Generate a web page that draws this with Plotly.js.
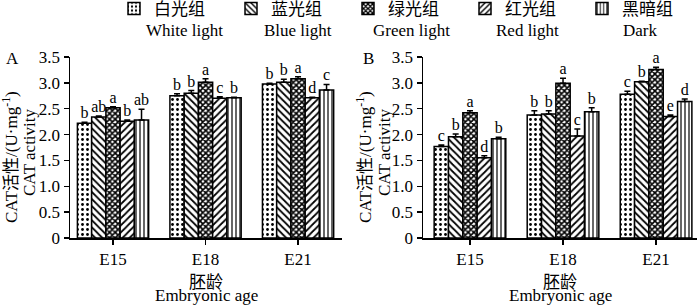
<!DOCTYPE html>
<html>
<head>
<meta charset="utf-8">
<script src="https://cdn.plot.ly/plotly-3.0.1.min.js"></script>
<style>html,body{margin:0;padding:0;background:#fff;}#chart{width:700px;height:305px;}</style>
</head>
<body>
<div id="chart"></div>
<script>
// ---------- data ----------
const categories = ['E15', 'E18', 'E21'];
const groupsCN = ['白光组', '蓝光组', '绿光组', '红光组', '黑暗组'];
const groupsEN = ['White light', 'Blue light', 'Green light', 'Red light', 'Dark'];

// Panel A
const A_white = [2.22, 2.75, 2.98];
const A_blue  = [2.34, 2.80, 3.01];
const A_green = [2.52, 3.01, 3.08];
const A_red   = [2.26, 2.70, 2.71];
const A_dark  = [2.28, 2.71, 2.86];
const A_white_err = [0.02, 0.04, 0.01];
const A_blue_err  = [0.02, 0.05, 0.06];
const A_green_err = [0.02, 0.07, 0.04];
const A_red_err   = [0.02, 0.03, 0.01];
const A_dark_err  = [0.21, 0.01, 0.11];
const A_white_sig = ['b', 'b', 'b'];
const A_blue_sig  = ['ab', 'b', 'b'];
const A_green_sig = ['a', 'a', 'a'];
const A_red_sig   = ['b', 'c', 'd'];
const A_dark_sig  = ['ab', 'b', 'c'];

// Panel B
const B_white = [1.77, 2.38, 2.78];
const B_blue  = [1.96, 2.40, 3.02];
const B_green = [2.42, 2.99, 3.26];
const B_red   = [1.55, 1.97, 2.35];
const B_dark  = [1.92, 2.44, 2.64];
const B_white_err = [0.03, 0.08, 0.06];
const B_blue_err  = [0.05, 0.06, 0.01];
const B_green_err = [0.04, 0.10, 0.04];
const B_red_err   = [0.04, 0.14, 0.03];
const B_dark_err  = [0.03, 0.08, 0.05];
const B_white_sig = ['c', 'b', 'c'];
const B_blue_sig  = ['b', 'b', 'b'];
const B_green_sig = ['a', 'a', 'a'];
const B_red_sig   = ['d', 'c', 'e'];
const B_dark_sig  = ['b', 'b', 'd'];

const yTickVals = [0, 0.5, 1.0, 1.5, 2.0, 2.5, 3.0, 3.5];
const yTickText = ['0', '0.5', '1.0', '1.5', '2.0', '2.5', '3.0', '3.5'];

// ---------- styles ----------
const FONT = 'Liberation Serif, "Times New Roman", "Noto Sans CJK SC", serif';
const FS = 17;
const patterns = [
  {shape: '.', size: 5, solidity: 0.25},
  {shape: '\\', size: 5, solidity: 0.35},
  {shape: 'x', size: 4, solidity: 0.65},
  {shape: '/', size: 5, solidity: 0.35},
  {shape: '|', size: 4, solidity: 0.3}
];

const panels = [
  {xa: 'x', ya: 'y', vals: [A_white, A_blue, A_green, A_red, A_dark],
   errs: [A_white_err, A_blue_err, A_green_err, A_red_err, A_dark_err],
   sigs: [A_white_sig, A_blue_sig, A_green_sig, A_red_sig, A_dark_sig], legend: true},
  {xa: 'x2', ya: 'y2', vals: [B_white, B_blue, B_green, B_red, B_dark],
   errs: [B_white_err, B_blue_err, B_green_err, B_red_err, B_dark_err],
   sigs: [B_white_sig, B_blue_sig, B_green_sig, B_red_sig, B_dark_sig], legend: false}
];

const traces = [];
panels.forEach(p => {
  for (let i = 0; i < 5; i++) {
    traces.push({
      type: 'bar', x: categories, y: p.vals[i], xaxis: p.xa, yaxis: p.ya,
      name: groupsCN[i], legendgroup: 'g' + i, showlegend: p.legend,
      marker: {color: '#fff', line: {color: '#000', width: 1.5},
               pattern: Object.assign({fgcolor: '#000', bgcolor: '#fff'}, patterns[i])},
      error_y: {type: 'data', symmetric: false, array: p.errs[i],
                arrayminus: p.errs[i].map(() => 0), color: '#000', thickness: 1.5, width: 3},
      hoverinfo: 'skip'
    });
  }
  for (let i = 0; i < 5; i++) {
    traces.push({
      type: 'scatter', mode: 'text', orientation: 'v', x: categories,
      y: p.vals[i].map((v, k) => v + p.errs[i][k]),
      text: p.sigs[i], textposition: 'top center',
      textfont: {family: FONT, size: 16, color: '#000'},
      xaxis: p.xa, yaxis: p.ya, showlegend: false, hoverinfo: 'skip', cliponaxis: false
    });
  }
});

function xax(domain, range) {
  return {domain: domain, range: range, type: 'category', showgrid: false, zeroline: false,
    showline: true, linecolor: '#000', linewidth: 1.5, ticks: 'outside', ticklen: 5,
    tickwidth: 1.5, tickcolor: '#000', tickfont: {family: FONT, size: FS, color: '#000'}, fixedrange: true};
}
function yax(anchor) {
  return {domain: [0, 1], range: [0, 3.5], anchor: anchor, showgrid: false, zeroline: false,
    showline: true, linecolor: '#000', linewidth: 1.5, ticks: 'outside', ticklen: 5,
    tickwidth: 1.5, tickcolor: '#000', tickvals: yTickVals, ticktext: yTickText,
    tickfont: {family: FONT, size: FS, color: '#000'}, fixedrange: true};
}

const W = 700, plotTop = 57, plotBottom = 238, plotH = plotBottom - plotTop;
const py = px => (plotBottom - px) / plotH;

const annotations = [];
function ann(text, xref, x, y, opts) {
  annotations.push(Object.assign({text: text, xref: xref, yref: 'paper', x: x, y: y,
    xanchor: 'center', yanchor: 'middle', showarrow: false,
    font: {family: FONT, size: FS, color: '#000'}}, opts || {}));
}
// English legend labels
const enCenters = [184, 298, 412, 527, 640];
groupsEN.forEach((t, i) => ann(t, 'paper', enCenters[i] / W, py(31)));
// panel letters
ann('A', 'paper', 12 / W, py(58));
ann('B', 'paper', 368 / W, py(58));
// y titles (two lines)
[[10, 29], [364, 384]].forEach(c => {
  ann('CAT活性/(U·mg<sup>-1</sup>)', 'paper', c[0] / W, py(157), {textangle: -90});
  ann('CAT activity', 'paper', c[1] / W, py(152), {textangle: -90});
});
// x titles
['x domain', 'x2 domain'].forEach(xr => {
  ann('胚龄', xr, 0.5, py(282));
  ann('Embryonic age', xr, 0.5, py(295));
});

const layout = {
  width: 700, height: 305,
  margin: {l: 0, r: 0, t: plotTop, b: 305 - plotBottom, pad: 0, autoexpand: false},
  paper_bgcolor: '#fff', plot_bgcolor: '#fff',
  barmode: 'group', bargap: 0.23, bargroupgap: 0,
  scattermode: 'group',
  xaxis: xax([70 / W, 342 / W], [-0.465, 2.475]),
  yaxis: yax('x'),
  xaxis2: xax([423 / W, 697 / W], [-0.505, 2.44]),
  yaxis2: yax('x2'),
  showlegend: true,
  legend: {orientation: 'h', x: 114 / W, xanchor: 'left', y: py(-9), yanchor: 'top',
    font: {family: FONT, size: FS, color: '#000'}, entrywidth: 72, entrywidthmode: 'pixels',
    bgcolor: 'rgba(0,0,0,0)', traceorder: 'normal', itemclick: false, itemdoubleclick: false},
  annotations: annotations
};

Plotly.newPlot('chart', traces, layout, {displayModeBar: false, staticPlot: true});
</script>
</body>
</html>
